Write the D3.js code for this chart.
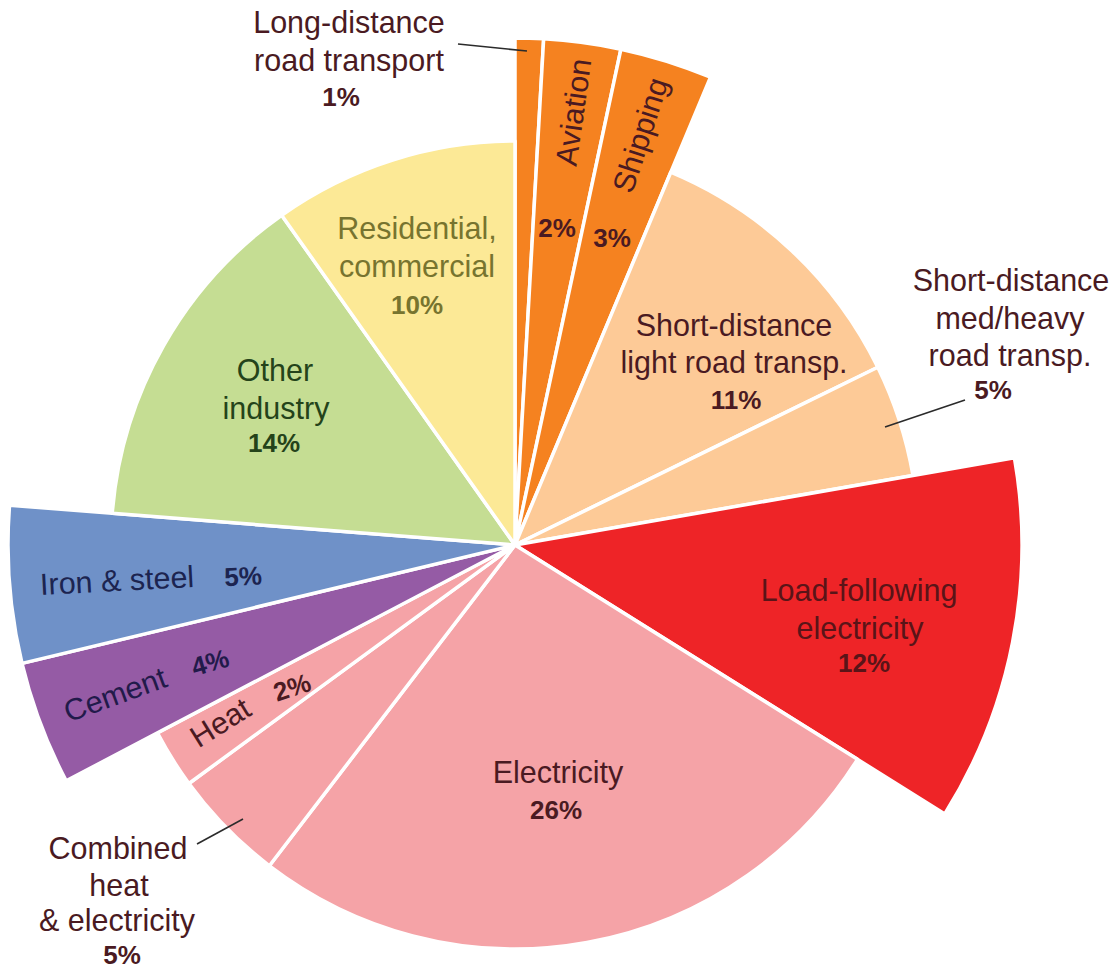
<!DOCTYPE html>
<html>
<head>
<meta charset="utf-8">
<script src="https://cdn.jsdelivr.net/npm/d3@7"></script>
<style>
  html, body { margin: 0; padding: 0; background: #fff; }
  svg { display: block; }
  text { font-family: "Liberation Sans", Arial, Helvetica, sans-serif; }
</style>
</head>
<body>
<svg id="chart" width="1114" height="970"></svg>
<script>
// ---- DATA ----
const categories = [
  "Long-distance road transport", "Aviation", "Shipping",
  "Short-distance light road transp.", "Short-distance med/heavy road transp.",
  "Load-following electricity", "Electricity", "Combined heat & electricity", "Heat",
  "Cement", "Iron & steel", "Other industry", "Residential, commercial"
];
// shares (%)
const shares = [0.9, 2.45, 2.95, 11.45, 4.5, 11.65, 26.5, 4.55, 2.35, 3.95, 5.0, 13.95, 9.8];
// percentages as printed on the chart
const pctLabels = ["1%", "2%", "3%", "11%", "5%", "12%", "26%", "5%", "2%", "4%", "5%", "14%", "10%"];
// slices drawn with the larger radius
const exploded = [true, true, true, false, false, true, false, false, false, true, true, false, false];
// sector groups (colour)
const groups = ["long-distance transport", "long-distance transport", "long-distance transport",
  "short-distance transport", "short-distance transport",
  "load-following electricity", "electricity", "electricity", "electricity",
  "cement", "iron & steel", "other industry", "buildings"];
// label text lines
const labelLines = [
  ["Long-distance", "road transport"], ["Aviation"], ["Shipping"],
  ["Short-distance", "light road transp."], ["Short-distance", "med/heavy", "road transp."],
  ["Load-following", "electricity"], ["Electricity"], ["Combined", "heat", "& electricity"], ["Heat"],
  ["Cement"], ["Iron & steel"], ["Other", "industry"], ["Residential,", "commercial"]
];

// ---- STYLE / LAYOUT ----
const groupNames = ["long-distance transport", "short-distance transport", "load-following electricity",
  "electricity", "cement", "iron & steel", "other industry", "buildings"];
const color = d3.scaleOrdinal()
  .domain(groupNames)
  .range(["#f58220", "#fdca97", "#ee2427", "#f5a3a7", "#955ba5", "#6f91c8", "#c5dd93", "#fce996"]);
const textColor = d3.scaleOrdinal()
  .domain(groupNames)
  .range(["#4a1a22", "#4a1a22", "#5a1418", "#4a1a22", "#221a4a", "#1c2450", "#24431a", "#77742f"]);

const cx = 515, cy = 545;
const rBase = 404, rExt = 507;
const fs = 30.5, fsPct = 26;

// label layout: line centers, optional rotation, optional leader line
const layout = [
  { lines: [[349, 22], [349, 60]], pct: [341, 97], leader: [[458, 44], [527, 51]], outside: true },
  { lines: [[573, 112]], rot: -82, pct: [557, 228] },
  { lines: [[640, 135]], rot: -72, pct: [612, 238] },
  { lines: [[734, 325], [734, 362]], pct: [736, 400] },
  { lines: [[1011, 280], [1010, 318], [1010, 355]], pct: [993, 390], leader: [[885, 427], [965, 400]], outside: true },
  { lines: [[859, 590], [860, 628]], pct: [864, 663] },
  { lines: [[558, 772]], pct: [556, 810] },
  { lines: [[118, 848], [119, 885], [117, 920]], pct: [122, 955], leader: [[197, 844], [243, 819]], outside: true },
  { lines: [[220, 722]], rot: -32, pct: [292, 687], pctRot: -18 },
  { lines: [[115, 694]], rot: -20, pct: [210, 662], pctRot: -16 },
  { lines: [[117, 580]], rot: -3, pct: [243, 576], pctRot: -3 },
  { lines: [[275, 370], [276, 408]], pct: [274, 443] },
  { lines: [[417, 228], [417, 266]], pct: [417, 305] }
];

// ---- DRAW ----
const svg = d3.select("#chart");
const g = svg.append("g").attr("transform", `translate(${cx},${cy})`);

const pie = d3.pie().sort(null).value(d => d).startAngle(0).endAngle(2 * Math.PI);
const arcs = pie(shares);
const arc = d3.arc().innerRadius(0).outerRadius(d => exploded[d.index] ? rExt : rBase);

g.selectAll("path.slice")
  .data(arcs)
  .join("path")
  .attr("class", "slice")
  .attr("d", arc)
  .attr("fill", d => color(groups[d.index]))
  .attr("stroke", "#ffffff")
  .attr("stroke-width", 3.5)
  .attr("stroke-linejoin", "round");

// leader lines
const leaders = svg.append("g");
layout.forEach((L, i) => {
  if (L.leader) {
    leaders.append("line")
      .attr("x1", L.leader[0][0]).attr("y1", L.leader[0][1])
      .attr("x2", L.leader[1][0]).attr("y2", L.leader[1][1])
      .attr("stroke", "#2b2b2b").attr("stroke-width", 1.6);
  }
});

// labels
const labels = svg.append("g");
layout.forEach((L, i) => {
  const col = L.outside ? "#4a1a22" : textColor(groups[i]);
  labelLines[i].forEach((t, k) => {
    const [x, y] = L.lines[k];
    const txt = labels.append("text")
      .attr("x", x).attr("y", y)
      .attr("dy", "0.36em")
      .attr("text-anchor", "middle")
      .attr("font-size", fs)
      .attr("fill", col)
      .text(t);
    if (L.rot) txt.attr("transform", `rotate(${L.rot},${x},${y})`);
  });
  const [px, py] = L.pct;
  const p = labels.append("text")
    .attr("x", px).attr("y", py)
    .attr("dy", "0.36em")
    .attr("text-anchor", "middle")
    .attr("font-size", fsPct)
    .attr("font-weight", "bold")
    .attr("fill", col)
    .text(pctLabels[i]);
  if (L.pctRot) p.attr("transform", `rotate(${L.pctRot},${px},${py})`);
});
</script>
</body>
</html>
